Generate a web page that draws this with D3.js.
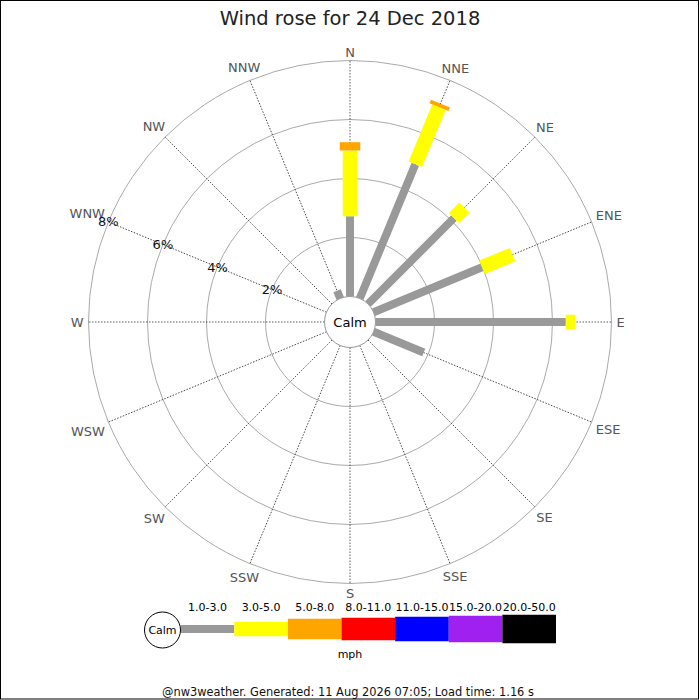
<!DOCTYPE html>
<html>
<head>
<meta charset="utf-8">
<title>Wind rose</title>
<style>
    body { margin: 0; padding: 0; background: white; }
    text { font-family: "DejaVu Sans", sans-serif; }
</style>
</head>
<body>
<div id="rose"></div>
<script src="https://cdn.jsdelivr.net/npm/d3@7"></script>
<script>
    // data (percent of time per direction and speed bin)
    let directions = ["N", "NNE", "NE", "ENE", "E", "ESE", "SE", "SSE",
                      "S", "SSW", "SW", "WSW", "W", "WNW", "NW", "NNW"]
    let speedBins = ["1.0-3.0", "3.0-5.0", "5.0-8.0", "8.0-11.0", "11.0-15.0", "15.0-20.0", "20.0-50.0"]
    let binColours = ["#999999", "#ffff00", "#ffa500", "#ff0000", "#0000ff", "#a020f0", "#000000"]
    let bin1 = [2.72, 4.92, 4.12, 3.98, 6.45, 1.84, 0, 0, 0, 0, 0, 0, 0, 0, 0, 0.28]
    let bin2 = [2.23, 2.10, 0.50, 1.12, 0.33, 0, 0, 0, 0, 0, 0, 0, 0, 0, 0, 0]
    let bin3 = [0.28, 0.13, 0, 0, 0, 0, 0, 0, 0, 0, 0, 0, 0, 0, 0, 0]
    let bin4 = new Array(16).fill(0)
    let bin5 = new Array(16).fill(0)
    let bin6 = new Array(16).fill(0)
    let bin7 = new Array(16).fill(0)
    let ringTicks = [2, 4, 6, 8]
    let titleText = "Wind rose for 24 Dec 2018"
    let footerText = "@nw3weather. Generated: 11 Aug 2026 07:05; Load time: 1.16 s"

    let width = 700, height = 700
    let cx = 350, cy = 322
    let calmR = 25.5

    let svg = d3.select("#rose").append("svg")
        .attr("width", width)
        .attr("height", height)

    svg.append("rect")
        .attr("x", 0.5).attr("y", 0.5)
        .attr("width", 698).attr("height", 698.5)
        .attr("fill", "white")
        .attr("stroke", "black")

    svg.append("text")
        .attr("x", width / 2)
        .attr("y", 24.5)
        .attr("text-anchor", "middle")
        .attr("font-size", 19.5)
        .attr("fill", "#222")
        .text(titleText)

    let r = d3.scaleLinear().domain([0, 8]).range([calmR, 261.5])
    let angle = d3.scalePoint().domain(directions).range([0, 360 - 22.5])

    let rose = svg.append("g")
        .attr("transform", "translate(" + cx + "," + cy + ")")

    // rings
    rose.selectAll(".ring")
        .data(ringTicks)
        .enter()
        .append("circle")
        .attr("r", d => r(d))
        .attr("fill", "none")
        .attr("stroke", "#aaa")
        .attr("stroke-width", 1)

    // direction axes
    rose.selectAll(".axis")
        .data(directions)
        .enter()
        .append("line")
        .attr("transform", d => "rotate(" + angle(d) + ")")
        .attr("x1", 0).attr("y1", -calmR)
        .attr("x2", 0).attr("y2", -r(8))
        .attr("stroke", "#333")
        .attr("stroke-width", 0.8)
        .attr("stroke-dasharray", "1.5,1.5")

    // direction labels
    let labels = rose.selectAll(".dirlabel")
        .data(directions)
        .enter()
        .append("text")
        .attr("font-size", 13)
        .attr("fill", "#555")
        .attr("text-anchor", "middle")
        .attr("dominant-baseline", "central")
        .text(d => d)
    labels.each(function(d) {
        let a = angle(d) * Math.PI / 180
        let w = this.getComputedTextLength() / 2
        let rr = 266.5 + w * Math.abs(Math.sin(a)) + 4 * Math.abs(Math.cos(a))
        d3.select(this)
            .attr("x", rr * Math.sin(a))
            .attr("y", -rr * Math.cos(a) + 0.8)
    })

    // stacked bars
    let table = directions.map(function(d, i) {
        return {dir: d, b0: bin1[i], b1: bin2[i], b2: bin3[i], b3: bin4[i], b4: bin5[i], b5: bin6[i], b6: bin7[i]}
    })
    let keys = speedBins.map((s, i) => "b" + i)
    let barWidths = [8, 14.5, 20.5, 22.5, 24.5, 26.5, 28.5]
    let stacked = d3.stack().keys(keys)(table)

    stacked.forEach(function(layer, k) {
        rose.selectAll(".seg" + k)
            .data(layer.filter(p => p[1] > p[0]))
            .enter()
            .append("rect")
            .attr("transform", p => "rotate(" + angle(p.data.dir) + ")")
            .attr("x", -barWidths[k] / 2)
            .attr("y", p => -r(p[1]))
            .attr("width", barWidths[k])
            .attr("height", p => r(p[1]) - r(p[0]))
            .attr("fill", binColours[k])
    })

    // calm circle
    rose.append("circle")
        .attr("r", calmR)
        .attr("fill", "white")
        .attr("stroke", "#999")
        .attr("stroke-width", 1)
    rose.append("text")
        .attr("text-anchor", "middle")
        .attr("dominant-baseline", "central")
        .attr("font-size", 13)
        .attr("fill", "black")
        .text("Calm")

    // percent labels on WNW axis
    let wnw = angle("WNW") * Math.PI / 180
    rose.selectAll(".pct")
        .data(ringTicks)
        .enter()
        .append("text")
        .attr("x", d => r(d) * Math.sin(wnw))
        .attr("y", d => -r(d) * Math.cos(wnw))
        .attr("text-anchor", "middle")
        .attr("dominant-baseline", "central")
        .attr("font-size", 13)
        .attr("fill", "#111")
        .text(d => d + "%")

    // legend
    let legend = svg.append("g")
    let legX = d3.scaleLinear().domain([0, speedBins.length]).range([180.7, 556])
    let legY = 629

    legend.selectAll(".legbar")
        .data(speedBins)
        .enter()
        .append("rect")
        .attr("x", (d, i) => legX(i))
        .attr("y", (d, i) => legY - barWidths[i] / 2)
        .attr("width", (d, i) => legX(i + 1) - legX(i))
        .attr("height", (d, i) => barWidths[i])
        .attr("fill", (d, i) => binColours[i])

    legend.selectAll(".legtext")
        .data(speedBins)
        .enter()
        .append("text")
        .attr("x", (d, i) => (legX(i) + legX(i + 1)) / 2)
        .attr("y", 611)
        .attr("text-anchor", "middle")
        .attr("font-size", 11)
        .attr("fill", "black")
        .text(d => d)

    legend.append("circle")
        .attr("cx", 162.5).attr("cy", 630)
        .attr("r", 18)
        .attr("fill", "white")
        .attr("stroke", "black")
    legend.append("text")
        .attr("x", 162.5).attr("y", 630)
        .attr("text-anchor", "middle")
        .attr("dominant-baseline", "central")
        .attr("font-size", 11)
        .text("Calm")

    legend.append("text")
        .attr("x", 350).attr("y", 658)
        .attr("text-anchor", "middle")
        .attr("font-size", 11)
        .text("mph")

    svg.append("text")
        .attr("x", 348).attr("y", 696)
        .attr("text-anchor", "middle")
        .attr("font-size", 11.4)
        .attr("fill", "#111")
        .text(footerText)
</script>
</body>
</html>
